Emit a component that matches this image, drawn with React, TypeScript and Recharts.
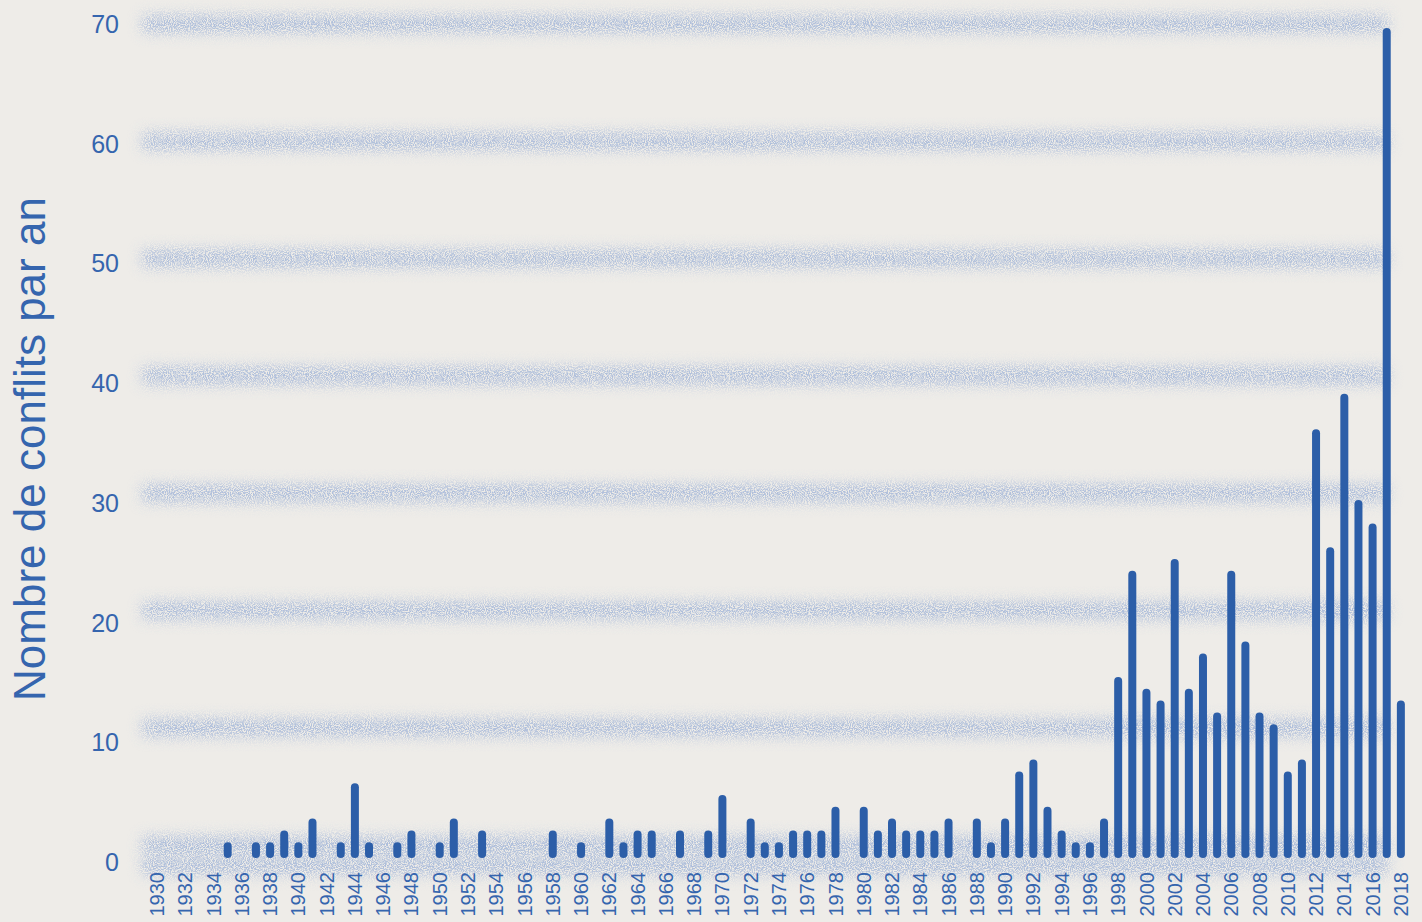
import { BarChart, Bar, XAxis, YAxis, CartesianGrid } from "recharts"

const years = [
  1930, 1931, 1932, 1933, 1934, 1935, 1936, 1937, 1938, 1939,
  1940, 1941, 1942, 1943, 1944, 1945, 1946, 1947, 1948, 1949,
  1950, 1951, 1952, 1953, 1954, 1955, 1956, 1957, 1958, 1959,
  1960, 1961, 1962, 1963, 1964, 1965, 1966, 1967, 1968, 1969,
  1970, 1971, 1972, 1973, 1974, 1975, 1976, 1977, 1978, 1979,
  1980, 1981, 1982, 1983, 1984, 1985, 1986, 1987, 1988, 1989,
  1990, 1991, 1992, 1993, 1994, 1995, 1996, 1997, 1998, 1999,
  2000, 2001, 2002, 2003, 2004, 2005, 2006, 2007, 2008, 2009,
  2010, 2011, 2012, 2013, 2014, 2015, 2016, 2017, 2018,
]

// conflits par an
const conflicts = [
  0, 0, 0, 0, 0, 1, 0, 1, 1, 2,
  1, 3, 0, 1, 6, 1, 0, 1, 2, 0,
  1, 3, 0, 2, 0, 0, 0, 0, 2, 0,
  1, 0, 3, 1, 2, 2, 0, 2, 0, 2,
  5, 0, 3, 1, 1, 2, 2, 2, 4, 0,
  4, 2, 3, 2, 2, 2, 3, 0, 3, 1,
  3, 7, 8, 4, 2, 1, 1, 3, 15, 24,
  14, 13, 25, 14, 17, 12, 24, 18, 12, 11,
  7, 8, 36, 26, 39, 30, 28, 70, 13,
]

const yTicks = [0, 10, 20, 30, 40, 50, 60, 70]

const data = years.map((year, i) => ({ year, conflicts: conflicts[i] }))

const BLUE = "#2c5ea8"
const TEXT = "#3565ae"
const PAPER = "#eeece8"
const FONT = "'Liberation Sans', Arial, sans-serif"

const CapsuleBar = (props: any) => {
  const { x, y, width, height } = props
  if (!height || height <= 0) return null
  const cap = width / 2
  return <rect x={x} y={y - cap} width={width} height={height + cap} rx={cap} ry={cap} fill={BLUE} />
}

const YearTick = ({ x, y, payload }: any) => {
  if (payload.value % 2 !== 0) return null
  const bx = x + 7
  return (
    <text x={bx} y={y} transform={`rotate(-90 ${bx} ${y})`} textAnchor="end"
      fill={TEXT} fontSize={20} fontFamily={FONT}>
      {payload.value}
    </text>
  )
}

const ValueTick = ({ x, y, payload }: any) => (
  <text x={x} y={y} dy="0.36em" textAnchor="end" fill={TEXT} fontSize={25} fontFamily={FONT}>
    {payload.value}
  </text>
)

const GridBand = (props: any) => {
  const { x1, x2, y1, y2 } = props
  return (
    <line key={`band-${y1}`} x1={x1 - 8} x2={x2 - 20} y1={y1} y2={y2}
      stroke="#5a82c8" strokeWidth={12} strokeOpacity={0.75} filter="url(#grainBlur)" />
  )
}

export default function App() {
  return (
    <div style={{ width: 1422, height: 922, background: PAPER }}>
      <style>{`body{margin:0;background:${PAPER};}`}</style>
      <BarChart width={1422} height={922} data={data} margin={{ top: 24, right: 14, bottom: 0, left: 0 }} barSize={8}>
        <defs>
          <filter id="grainBlur" filterUnits="userSpaceOnUse" x={0} y={0} width={1422} height={922}>
            <feGaussianBlur in="SourceGraphic" stdDeviation="7 8" result="b" />
            <feTurbulence type="fractalNoise" baseFrequency="0.95" numOctaves={2} seed={4} result="n" />
            <feColorMatrix in="n" type="matrix"
              values="0 0 0 0 0  0 0 0 0 0  0 0 0 0 0  3.5 0 0 0 -1.2" result="m" />
            <feComposite in="b" in2="m" operator="in" />
          </filter>
        </defs>
        <CartesianGrid yAxisId="grid" vertical={false} horizontal={GridBand} />
        <XAxis dataKey="year" interval={0} tick={YearTick} tickLine={false} axisLine={false}
          tickSize={0} tickMargin={6} height={56} />
        <YAxis yAxisId="grid" hide width={0} type="number" domain={[-1.79, 70]} allowDataOverflow ticks={yTicks} />
        <YAxis yAxisId="bars" hide width={0} type="number" domain={[-0.678, 70.68]} allowDataOverflow />
        <YAxis yAxisId="labels" type="number" domain={[-0.334, 70]} allowDataOverflow ticks={yTicks}
          width={150} tickLine={false} axisLine={false} tickSize={0} tickMargin={31}
          tick={ValueTick}
          label={{
            content: () => (
              <text x={45} y={449} transform="rotate(-90 45 449)" textAnchor="middle"
                fill={TEXT} fontSize={44} fontFamily={FONT}>
                Nombre de conflits par an
              </text>
            ),
          }} />
        <Bar yAxisId="bars" dataKey="conflicts" shape={CapsuleBar} isAnimationActive={false} />
      </BarChart>
    </div>
  )
}
